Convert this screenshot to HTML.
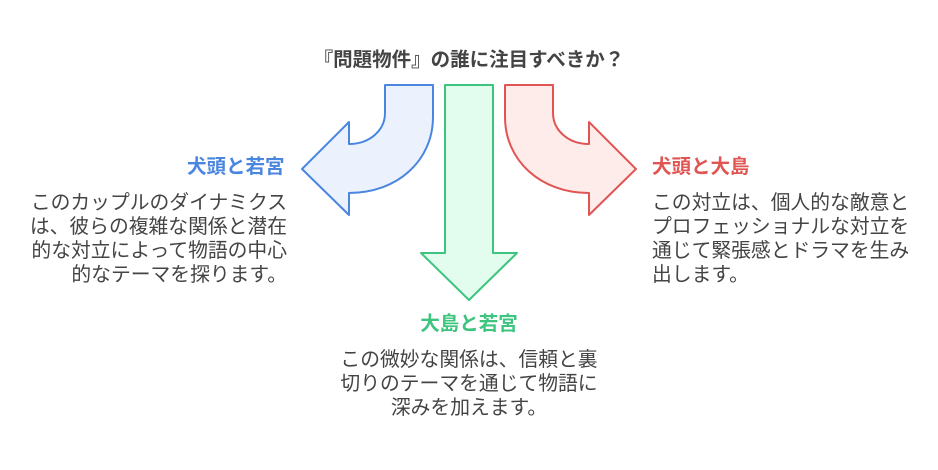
<!DOCTYPE html>
<html><head><meta charset="utf-8"><style>
body{margin:0;width:938px;height:470px;background:#fff;position:relative;font-family:"Liberation Sans","Noto Sans CJK JP",sans-serif;color:#444;overflow:hidden}
.t{position:absolute;white-space:nowrap}
.h{font-weight:bold;font-size:19.5px;line-height:24px}
.p{font-size:19.8px;line-height:24px}
</style></head><body>
<svg width="938" height="470" style="position:absolute;left:0;top:0">
<path d="M385,85 L433,85 L433,117 C433,160 398,193 349,193 L349,215 L302,169 L349,122 L349,144 C370,144 385,130 385,113 Z" fill="#ebf2fe" stroke="#4a86e0" stroke-width="2" stroke-linejoin="round"/>
<path d="M553,85 L505,85 L505,117 C505,160 540,193 589,193 L589,215 L636,169 L589,122 L589,144 C568,144 553,130 553,113 Z" fill="#feeceb" stroke="#e05552" stroke-width="2" stroke-linejoin="round"/>
<path d="M445,85 L493,85 L493,253 L517,253 L469,300 L421,253 L445,253 Z" fill="#e2fcee" stroke="#3dc47e" stroke-width="2" stroke-linejoin="round"/>
</svg>
<div class="t h" style="left:0;width:938px;text-align:center;top:48px">『問題物件』の誰に注目すべきか？</div>
<div class="t h" style="left:187px;top:155px;color:#4a86e0">犬頭と若宮</div>
<div class="t p" style="right:651px;top:191px;text-align:right">このカップルのダイナミクス<br>は、彼らの複雑な関係と潜在<br>的な対立によって物語の中心<br>的なテーマを探ります。</div>
<div class="t h" style="left:652px;top:155px;color:#e05552">犬頭と大島</div>
<div class="t p" style="left:652px;top:191px">この対立は、個人的な敵意と<br>プロフェッショナルな対立を<br>通じて緊張感とドラマを生み<br>出します。</div>
<div class="t h" style="left:0;width:938px;text-align:center;top:312px;color:#3dc47e">大島と若宮</div>
<div class="t p" style="left:0;width:938px;text-align:center;top:348px">この微妙な関係は、信頼と裏<br>切りのテーマを通じて物語に<br>深みを加えます。</div>
</body></html>
